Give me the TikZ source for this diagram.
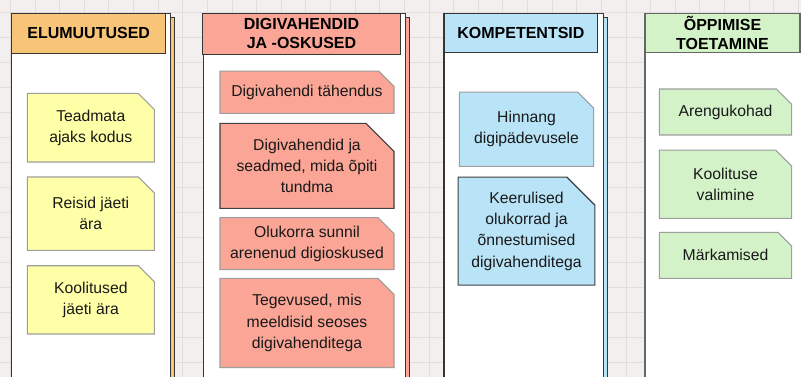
\documentclass[tikz,border=0pt]{standalone}
\usepackage{fontspec}
\setmainfont{Liberation Sans}
\usetikzlibrary{shapes.misc}

\definecolor{paper}{HTML}{F2EFEE}
\definecolor{gridcol}{HTML}{E1DDDC}
\definecolor{laneline}{HTML}{363636}
\definecolor{elucol}{HTML}{F7C478}
\definecolor{digicol}{HTML}{FAA595}
\definecolor{kompcol}{HTML}{B9E4F8}
\definecolor{toecol}{HTML}{D4F2C8}
\definecolor{yelcard}{HTML}{FFFFA8}

\tikzset{every picture/.style={x=0.75pt,y=-0.75pt,line width=0.8pt}}
\tikzset{lane/.style={draw=laneline, fill=white}}
\tikzset{lane head/.style={rectangle, draw=laneline, inner sep=0pt, align=center,
    font=\bfseries\fontsize{12}{14.5}\selectfont, text=black}}
\tikzset{card/.style={chamfered rectangle, chamfered rectangle corners=north east,
    chamfered rectangle xsep=6pt, chamfered rectangle ysep=6pt, draw=black!38,
    inner sep=0pt, align=center, text=black!90, font=\fontsize{11.8}{16}\selectfont}}
\tikzset{picked/.style={draw=black!75, chamfered rectangle xsep=10pt, chamfered rectangle ysep=11pt}}
\newcommand{\lanebox}[3]{
  \draw[lane, fill=#3] (#1+4,17.3) rectangle (#2+4,390);
  \draw[lane] (#1,13.3) rectangle (#2,390);
}

\begin{document}
\begin{tikzpicture}
  \useasboundingbox (0,0) rectangle (801,377);
  \clip (0,0) rectangle (801,377);
  \fill[paper] (0,0) rectangle (801,377);
  % grid
  \foreach \gx in {0,...,32}
    \draw[gridcol, line width=0.6pt] (10.4+24.62*\gx,0) -- ++(0,377);
  \foreach \gy in {0,...,15}
    \draw[gridcol, line width=0.6pt] (0,12.3+25*\gy) -- ++(801,0);

  % lanes
  \lanebox{11.7}{170.7}{elucol}
  \lanebox{203.3}{405.7}{digicol}
  \lanebox{444}{603.3}{kompcol}
  \draw[lane, draw=black!60] (645,13.3) rectangle (810,390);

  \node[lane head, fill=elucol, minimum width=115.5pt, minimum height=30pt] (elu) at (88.7,33.3) {ELUMUUTUSED};
  \node[lane head, fill=digicol, minimum width=148.8pt, minimum height=30.75pt] (digi) at (301.5,33.8) {DIGIVAHENDID\\JA -OSKUSED};
  \node[lane head, fill=kompcol, minimum width=115.3pt, minimum height=29.25pt] (komp) at (520.9,32.8) {KOMPETENTSID};
  \node[lane head, draw=black!60, fill=toecol, minimum width=116.25pt, minimum height=29.25pt] (toe) at (722.5,32.8) {ÕPPIMISE\\TOETAMINE};

  % elumuutused
  \node[card, fill=yelcard, minimum width=95.25pt, minimum height=51.5pt] (kodus) at (90.8,127.7) {Teadmata\\ajaks kodus};
  \node[card, fill=yelcard, minimum width=95.25pt, minimum height=55pt] (reisid) at (90.8,213.7) {Reisid jäeti\\ära};
  \node[card, fill=yelcard, minimum width=95.25pt, minimum height=51.2pt] (koolitused) at (90.8,299.9) {Koolitused\\jäeti ära};

  % digivahendid
  \node[card, fill=digicol, minimum width=130.5pt, minimum height=31.7pt] (tahendus) at (307,92.2) {Digivahendi tähendus};
  \node[card, picked, fill=digicol, minimum width=130.5pt, minimum height=63.75pt] (seadmed) at (307,165.8) {Digivahendid ja\\seadmed, mida õpiti\\tundma};
  \node[card, fill=digicol, minimum width=130.5pt, minimum height=37pt] (sunnil) at (307,243.7) {Olukorra sunnil\\arenenud digioskused};
  \node[card, fill=digicol, minimum width=130.5pt, minimum height=67pt] (tegevused) at (307,323) {Tegevused, mis\\meeldisid seoses\\digivahenditega};

  % kompetentsid
  \node[card, fill=kompcol, minimum width=100.8pt, minimum height=55.7pt] (hinnang) at (526.5,129.2) {Hinnang\\digipädevusele};
  \node[card, picked, fill=kompcol, minimum width=100.8pt, minimum height=76.3pt] (keerulised) at (526.5,231.2) {Keerulised\\olukorrad ja\\õnnestumised\\digivahenditega};

  % oppimise toetamine
  \node[card, fill=toecol, minimum width=99.3pt, minimum height=34.5pt] (arengu) at (725.5,112) {Arengukohad};
  \node[card, fill=toecol, minimum width=99.3pt, minimum height=51.2pt] (valimine) at (725.5,184.2) {Koolituse\\valimine};
  \node[card, fill=toecol, minimum width=99.3pt, minimum height=34.5pt] (markamised) at (725.5,255.3) {Märkamised};
\end{tikzpicture}
\end{document}
